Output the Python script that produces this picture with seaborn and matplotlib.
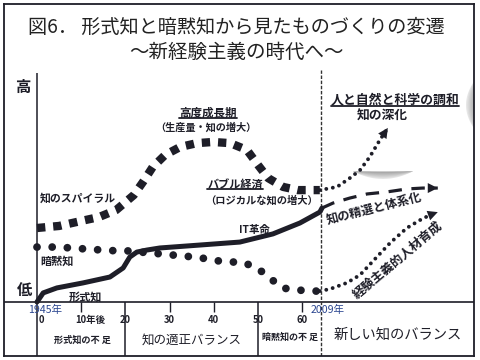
import numpy as np
import matplotlib
matplotlib.use('Agg')
import matplotlib.pyplot as plt
import seaborn as sns
from matplotlib.lines import Line2D

sns.set_theme(style='white')
plt.rcParams['font.family'] = ['Noto Sans CJK JP', 'DejaVu Sans']

# 横軸: 1945年からの経過年数、縦軸: 知のレベル (0=低, 100=高)
anos_espiral = [0, 5, 10, 14, 17.9, 21.9, 24, 26.2, 29, 32.4, 36.2, 39.8, 43.7, 47.5, 50, 52.3, 55.7, 59, 64]
nivel_espiral = [32.6, 33.5, 35.7, 37.4, 40.5, 47.1, 52.9, 59.5, 64.8, 68.3, 70, 70.5, 70, 67, 60.4, 54.6, 50.7, 49.3, 49.3]

anos_anmoku = [0, 4, 8, 11.3, 14.7, 18.3, 21.7, 25.1, 29, 32.4, 36.2, 39.6, 43, 46.4, 49.8, 52.7, 55.4, 58.8, 62.2, 64]
nivel_anmoku = [24.2, 24.2, 23.8, 23.3, 22.9, 22.5, 22.5, 21.6, 21.1, 20.3, 19.8, 18.5, 17.6, 17.6, 15, 10.6, 6.2, 5.3, 4.8, 4.8]

anos_keishiki = [0, 1.4, 4.5, 10.4, 16.5, 19.5, 21.0, 22.6, 24.9, 27.8, 36.9, 45.9, 53.4, 59.5, 64.0, 64.5]
nivel_keishiki = [0, 4.0, 6.2, 8.4, 11.0, 15.0, 19.8, 22.0, 22.9, 23.8, 25.1, 26.4, 30.0, 34.8, 39.6, 41.4]

# 2009年以降の矢印
anos_shinka = [64, 67.9, 70.8, 73.1, 75.3, 77.6, 79.4]
nivel_shinka = [49.3, 50.7, 54.6, 58.1, 63.9, 71.4, 76.7]

anos_taikei = [64.5, 67, 70.8, 74.7, 79.2, 83.7, 87.3, 90.7]
nivel_taikei = [41.4, 43.6, 45.8, 47.6, 48.5, 49.8, 50.2, 50.2]

anos_jinzai = [64, 66.3, 70.1, 73.1, 76.9, 79.9, 83.7, 86.7, 88.9, 90.7]
nivel_jinzai = [4.8, 5.7, 8.4, 11.9, 19.8, 26.0, 32.6, 36.1, 38.3, 39.6]

ticks_cortos = [10, 30, 40, 60]
etiquetas_ticks = ['20', '30', '40', '50', '60']
pos_etiquetas = [20, 30, 40, 50, 60]
separadores = [20, 50]
ano_2009 = 64.3

negro = '#1e1e28'
azul = '#2b4690'

fig = plt.figure(figsize=(4.8, 3.6), dpi=100)
fig.patch.set_facecolor('white')
ax = fig.add_axes([4 / 480, 4 / 360, 470 / 480, 352 / 360])
ax.set_xlim(-7.47, 98.9)
ax.set_ylim(-23.8, 131.3)
ax.set_xticks([])
ax.set_yticks([])
for s in ax.spines.values():
    s.set_color(negro)
    s.set_linewidth(1.3)
ax.set_facecolor('white')

# 軸線と区切り
ax.axhline(0, color=negro, lw=1.2)
ax.vlines(0, -23.8, 100.9, color=negro, lw=1.1)
ax.vlines(separadores, -23.8, 0, color=negro, lw=1.1)
ax.vlines(ticks_cortos, -4.4, 0, color=negro, lw=1.0)
ax.vlines(ano_2009, -23.8, 102.2, color='#333', lw=1.0, linestyles=(0, (2.5, 1.2)))

# 灰色の影（装飾）
def media_luna(x0, x1, y_top, bulge, n=8):
    t = np.linspace(-1, 1, 40)
    xs = x0 + (t + 1) / 2 * (x1 - x0)
    for k in range(n):
        b = bulge * (1 - k / n)
        g = 0.9 - 0.3 * k / n
        ys = y_top - b * (1 - t ** 2)
        ax.fill(np.r_[xs, xs[::-1]], np.r_[ys, np.full_like(xs, y_top) - 0.3 * b * (1 - t[::-1] ** 2)],
                color=(g, g, g), lw=0, zorder=1)

media_luna(71.5, 85.1, 57.6, 3.4)

def media_luna_v(x_right, y0, y1, bulge, n=8):
    t = np.linspace(-1, 1, 40)
    ys = y0 + (t + 1) / 2 * (y1 - y0)
    for k in range(n):
        b = bulge * (1 - k / n)
        g = 0.9 - 0.3 * k / n
        xs = x_right - b * (1 - t ** 2)
        ax.fill(np.r_[xs, np.full_like(xs, x_right)[::-1]], np.r_[ys, ys[::-1]],
                color=(g, g, g), lw=0, zorder=1, clip_on=True)

media_luna_v(99.5, 74.9, 98.7, 2.4)

# 曲線
sns.lineplot(x=anos_espiral, y=nivel_espiral, ax=ax, color=negro, lw=6.0, errorbar=None,
             linestyle=(0, (1, 0.95)), dash_capstyle='butt', zorder=3)
sns.lineplot(x=anos_anmoku, y=nivel_anmoku, ax=ax, color=negro, lw=5.6, errorbar=None,
             linestyle=(0, (0.001, 1.95)), dash_capstyle='round', zorder=3)
sns.lineplot(x=anos_keishiki, y=nivel_keishiki, ax=ax, color=negro, lw=3.6, errorbar=None,
             solid_capstyle='round', zorder=4)
sns.lineplot(x=anos_shinka, y=nivel_shinka, ax=ax, color=negro, lw=2.8, errorbar=None,
             linestyle=(0, (0.001, 1.7)), dash_capstyle='round', zorder=3)
sns.lineplot(x=anos_taikei, y=nivel_taikei, ax=ax, color=negro, lw=2.3, errorbar=None,
             linestyle=(0, (4.2, 3.0)), dash_capstyle='butt', zorder=3)
sns.lineplot(x=anos_jinzai, y=nivel_jinzai, ax=ax, color=negro, lw=2.8, errorbar=None,
             linestyle=(0, (0.001, 1.7)), dash_capstyle='round', zorder=3)

for xs, ys in [(anos_shinka, nivel_shinka), (anos_taikei, nivel_taikei), (anos_jinzai, nivel_jinzai)]:
    ax.annotate('', xy=(xs[-1], ys[-1]), xytext=(xs[-2], ys[-2]),
                arrowprops=dict(arrowstyle='-|>,head_length=0.9,head_width=0.45', lw=0,
                                color=negro, mutation_scale=8, shrinkA=0, shrinkB=0), zorder=5)

# タイトル
ax.text(0.494, 0.935, '図6． 形式知と暗黙知から見たものづくりの変遷', transform=ax.transAxes,
        ha='center', va='center', fontsize=13.8, color='#222')
ax.text(0.494, 0.861, '～新経験主義の時代へ～', transform=ax.transAxes,
        ha='center', va='center', fontsize=14, color='#222')

# 文字
def txt(x, y, s, size, bold=True, color=negro, **kw):
    return ax.text(x, y, s, ha=kw.pop('ha', 'center'), va='center', fontsize=size,
                   fontweight='bold' if bold else 'normal', color=color, zorder=6, **kw)

txt(-3.2, 94.7, '高', 11)
txt(-2.9, 5.3, '低', 11)
t1 = txt(38.7, 83.3, '高度成長期', 8.3)
txt(38.2, 76.7, '（生産量・知の増大）', 7.3)
t2 = txt(44.8, 52.0, 'バブル経済', 8.0)
txt(50.9, 44.9, '（ロジカルな知の増大）', 7.4)
txt(0.6, 45.8, '知のスパイラル', 7.8, ha='left')
txt(49.1, 31.7, 'IT革命', 7.5)
txt(4.5, 18.1, '暗黙知', 8)
txt(10.9, 2.2, '形式知', 8)
t3 = txt(81.0, 89.0, '人と自然と科学の調和', 9.3)
txt(78.1, 81.9, '知の深化', 9.2)
txt(76.2, 41.0, '知の精選と体系化', 8.8, rotation=14, rotation_mode='anchor')
txt(81.7, 18.5, '経験主義的人材育成', 9.0, rotation=40, rotation_mode='anchor')

txt(0.3, -7.9, '0', 6.8, ha='left')
txt(12.0, -7.9, '10年後', 6.8)
for p, e in zip(pos_etiquetas, etiquetas_ticks):
    txt(p, -7.9, e, 6.8)
txt(1.8, -3.6, '1945年', 7.6, bold=False, color=azul)
txt(65.8, -3.6, '2009年', 7.6, bold=False, color=azul)

txt(10.2, -16.9, '形式知の不 足', 6.6)
txt(35.1, -16.9, '知の適正バランス', 9.0, bold=False)
txt(57.3, -15.6, '暗黙知の不 足', 6.5)
txt(81.7, -14.6, '新しい知のバランス', 10.3, bold=False)

# 下線
fig.canvas.draw()
for t in [t1, t2, t3]:
    bb = t.get_window_extent()
    fig.add_artist(Line2D([bb.x0, bb.x1], [bb.y0 + 1, bb.y0 + 1], transform=None,
                          color=negro, lw=1.3))

fig.savefig('out.png', dpi=100, facecolor='white')
